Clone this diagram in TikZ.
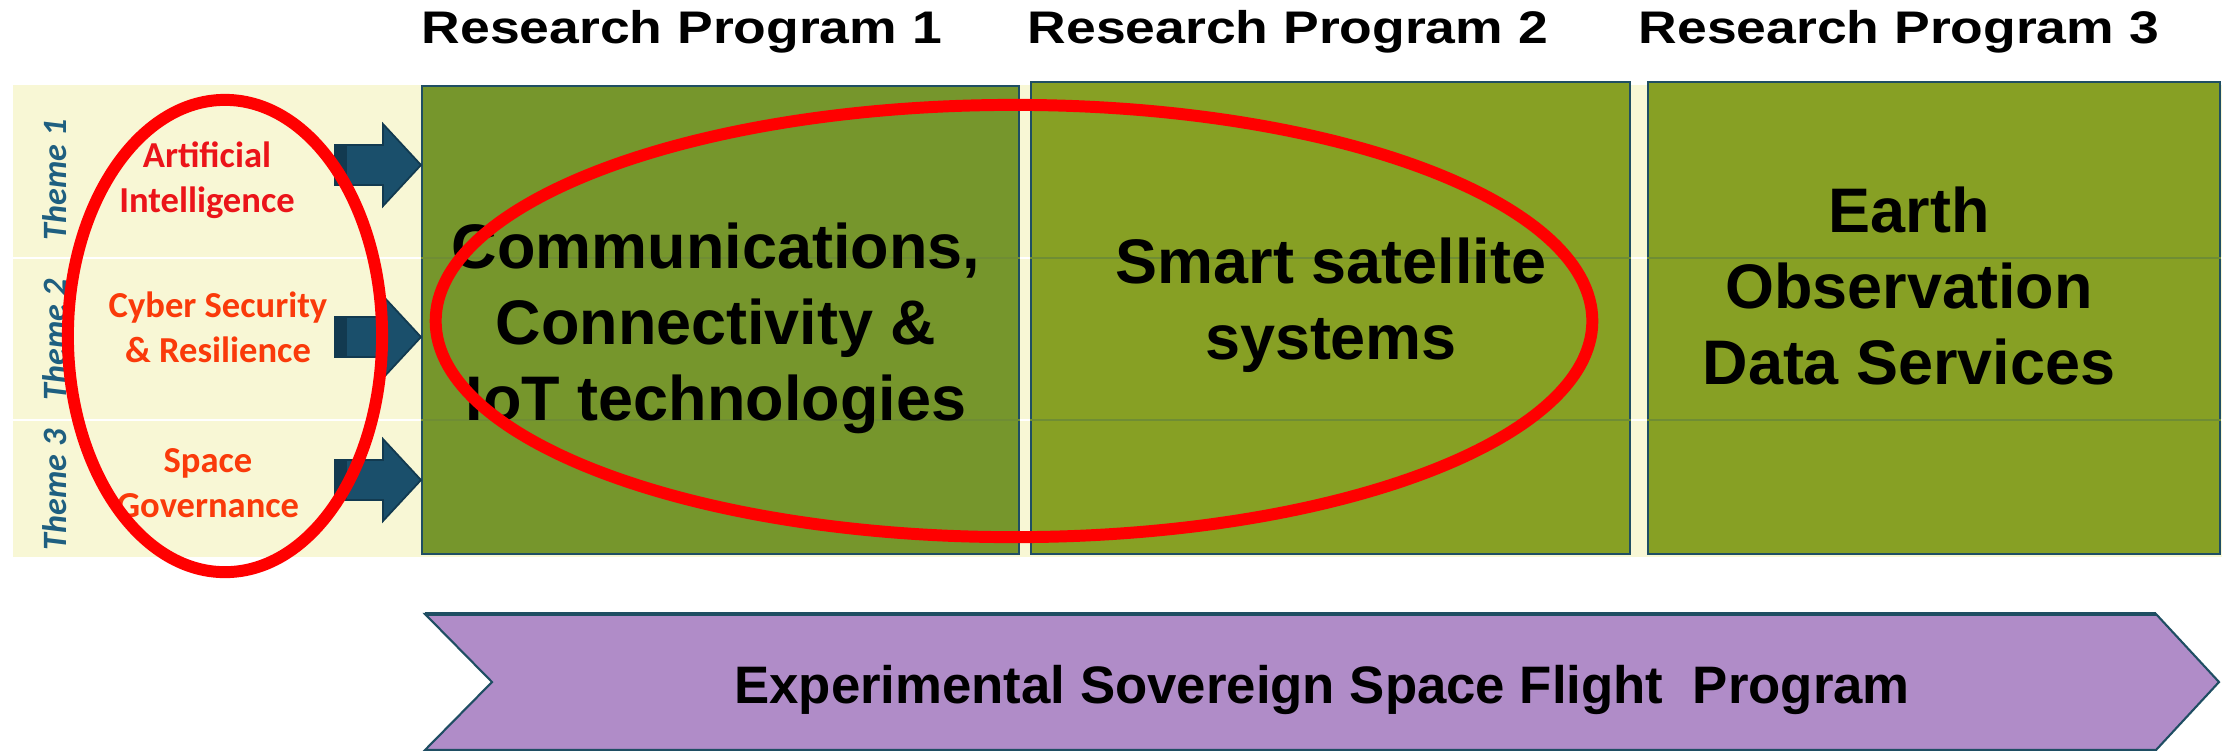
\documentclass[tikz,border=0pt]{standalone}
\usepackage{graphicx}
\usepackage{fontspec}
\setmainfont{Liberation Sans}
\newfontfamily\calfont{Carlito}
\usetikzlibrary{positioning}
\definecolor{bandyellow}{HTML}{F8F7D5}
\definecolor{rpgreenA}{HTML}{76962C}
\definecolor{rpgreenB}{HTML}{87A024}
\definecolor{rowgreen}{HTML}{6F8D34}
\definecolor{edgeblue}{HTML}{1F4E63}
\definecolor{themeblue}{HTML}{1F5F80}
\definecolor{arrowblue}{HTML}{1A4F6B}
\definecolor{arrowdark}{HTML}{123A50}
\definecolor{aired}{HTML}{EB1419}
\definecolor{topicorange}{HTML}{FA3A0A}
\definecolor{flightpurple}{HTML}{B08CC8}
\newcommand{\widetitle}[1]{\scalebox{1.17}[1]{#1}}

\begin{document}
\begin{tikzpicture}[x=0.01cm, y=-0.01cm,
	rpbox/.style={draw=edgeblue, line width=0.6pt, inner sep=0pt, anchor=north west, minimum height=4.72cm},
	rptext/.style={font=\fontsize{17.9}{21.6}\selectfont\bfseries, align=center, inner sep=0pt},
	rptitle/.style={font=\fontsize{13}{16}\selectfont\bfseries, anchor=base west, inner sep=0pt},
	themelabel/.style={font=\calfont\bfseries\itshape\fontsize{9.7}{11}\selectfont, text=themeblue, rotate=90, inner sep=0pt},
	topic/.style={font=\calfont\bfseries\fontsize{10.4}{12.8}\selectfont, align=center, inner sep=0pt},
	ring/.style={draw=red, line width=3.4pt}]
	\useasboundingbox[fill=white] (0,0) rectangle (2224,750);
	\fill[bandyellow] (13,85) rectangle (2222,557);
	\draw[white, line width=0.8pt] (13,258) -- (2222,258) (13,420) -- (2222,420);
	\node[rpbox, fill=rpgreenA, minimum width=5.97cm, minimum height=4.68cm] (rp1) at (421,85) {};
	\node[rpbox, fill=rpgreenB, minimum width=5.99cm] (rp2) at (1030,81) {};
	\node[rpbox, fill=rpgreenB, minimum width=5.72cm] (rp3) at (1647,81) {};
	\foreach \b in {rp1,rp2,rp3}
		\draw[rowgreen, line width=0.5pt] (\b.west |- 0,258) -- (\b.east |- 0,258) (\b.west |- 0,420) -- (\b.east |- 0,420);
	\node[rptitle] (title1) at (421,43) {\widetitle{Research Program 1}};
	\node[rptitle] (title2) at (1027,43) {\widetitle{Research Program 2}};
	\node[rptitle] (title3) at (1638,43) {\widetitle{Research Program 3}};
	\node[rptext] (comms) at (716,328) {Communications,\\Connectivity \&\\IoT technologies};
	\node[rptext] (smart) at (1331,305) {Smart satellite\\systems};
	\node[rptext] (earth) at (1909,286) {Earth\\Observation\\Data Services};
	\node[themelabel] (theme1) at (55,180) {Theme 1};
	\node[themelabel] (theme2) at (55,340) {Theme 2};
	\node[themelabel] (theme3) at (55,490) {Theme 3};
	\node[topic, text=aired] (ai) at (207,180) {Artificial\\Intelligence};
	\node[topic, text=topicorange] (cyber) at (218,327) {Cyber Security\\\& Resilience};
	\node[topic, text=topicorange] (gov) at (208,483) {Space\\Governance};
	\foreach \y in {165,337,480}{
		\draw[arrowdark, fill=arrowblue, line width=0.5pt] (335,\y-20) -- (383,\y-20) -- (383,\y-41) -- (421,\y) -- (383,\y+41) -- (383,\y+20) -- (335,\y+20) -- cycle;
		\fill[arrowdark] (335,\y-20) rectangle (347,\y+20);
	}
	\begin{scope}
		\clip (0,0) rectangle (2224,750);
		\draw[edgeblue, line width=0.6pt, fill=flightpurple] (425,614) -- (2156,614) -- (2219,682) -- (2156,750) -- (425,750) -- (492,682) -- cycle;
		\draw[edgeblue, line width=1.2pt] (425,614) -- (2156,614);
	\end{scope}
	\node[font=\fontsize{15}{18}\selectfont\bfseries, inner sep=0pt] (flight) at (1322,690) {Experimental Sovereign Space Flight\ \ Program};
	\draw[ring] (225,336) ellipse [x radius=1.57cm, y radius=2.36cm];
	\draw[ring] (1014,321) ellipse [x radius=5.78cm, y radius=2.16cm];
\end{tikzpicture}
\end{document}
